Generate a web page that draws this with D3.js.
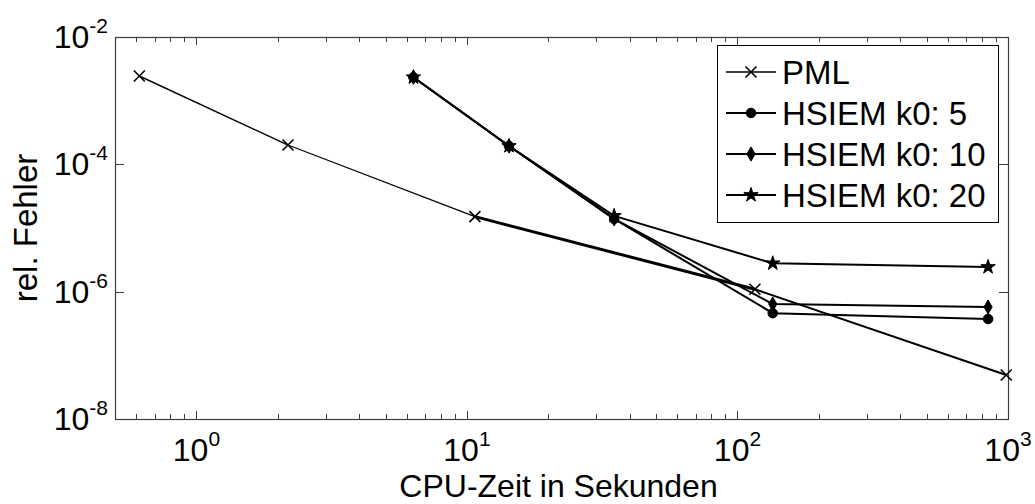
<!DOCTYPE html>
<html>
<head>
<meta charset="utf-8">
<script src="https://cdn.jsdelivr.net/npm/d3@7"></script>
<style>
  html, body { margin: 0; padding: 0; background: #fff; }
  svg { display: block; }
  text { font-family: "Liberation Sans", Arial, Helvetica, sans-serif; fill: #000; }
</style>
</head>
<body>
<svg id="chart" width="1035" height="504"></svg>
<script>
// CPU time (s) and relative error for each method
const pmlTime   = [0.615, 2.18, 10.7, 116, 985];
const pmlError  = [2.44e-3, 2.01e-4, 1.51e-5, 1.09e-6, 4.9e-8];

const hsiemTime = [6.34, 14.3, 35.0, 135, 844];
const hsiemK5   = [2.33e-3, 1.94e-4, 1.39e-5, 4.6e-7, 3.72e-7];
const hsiemK10  = [2.33e-3, 1.94e-4, 1.39e-5, 6.4e-7, 5.74e-7];
const hsiemK20  = [2.33e-3, 1.94e-4, 1.55e-5, 2.79e-6, 2.44e-6];

const seriesNames = ["PML", "HSIEM k0: 5", "HSIEM k0: 10", "HSIEM k0: 20"];

// Axis ranges and tick labels (powers of ten)
const xDomain = [0.5, 1000];
const yDomain = [1e-8, 1e-2];
const xTickValues = [1, 10, 100, 1000];
const xTickExponents = ["0", "1", "2", "3"];
const yTickValues = [1e-8, 1e-6, 1e-4, 1e-2];
const yTickExponents = ["-8", "-6", "-4", "-2"];

const xLabel = "CPU-Zeit in Sekunden";
const yLabel = "rel. Fehler";

// ---- layout ----
const plot = { left: 115, right: 1008, top: 37, bottom: 419 };
const axisColor = "#3c3c3c";
const fontTick = 32;
const fontLabel = 33;
const fontXLabel = 32;
const fontSup = 21;

const svg = d3.select("#chart");

const x = d3.scaleLog().domain(xDomain).range([plot.left, plot.right]);
const y = d3.scaleLog().domain(yDomain).range([plot.bottom, plot.top]);

// ---- axes box and ticks ----
const axes = svg.append("g");
axes.append("rect")
  .attr("x", plot.left + 0.5).attr("y", plot.top + 0.5)
  .attr("width", plot.right - plot.left).attr("height", plot.bottom - plot.top)
  .attr("fill", "none").attr("stroke", axisColor).attr("stroke-width", 1.2);

const majorLen = 8, minorLen = 5;
x.ticks().forEach(v => {
  const isMajor = Math.abs(Math.log10(v) - Math.round(Math.log10(v))) < 1e-9;
  const len = isMajor ? majorLen : minorLen;
  const px = Math.round(x(v)) + 0.5;
  if (px <= plot.left + 1 || px >= plot.right) return;
  axes.append("line").attr("x1", px).attr("x2", px)
    .attr("y1", plot.bottom).attr("y2", plot.bottom - len)
    .attr("stroke", axisColor);
  axes.append("line").attr("x1", px).attr("x2", px)
    .attr("y1", plot.top).attr("y2", plot.top + len)
    .attr("stroke", axisColor);
});
yTickValues.forEach(v => {
  const py = Math.round(y(v)) + 0.5;
  if (py <= plot.top + 1 || py >= plot.bottom) return;
  axes.append("line").attr("x1", plot.left).attr("x2", plot.left + majorLen + 1)
    .attr("y1", py).attr("y2", py).attr("stroke", axisColor);
  axes.append("line").attr("x1", plot.right).attr("x2", plot.right - majorLen - 1)
    .attr("y1", py).attr("y2", py).attr("stroke", axisColor);
});

// ---- tick labels: 10 with superscript exponent ----
function powerLabel(g, base, exp) {
  const t = g.append("text").attr("font-size", fontTick);
  t.append("tspan").text(base);
  t.append("tspan").attr("font-size", fontSup).attr("dy", -15).text(exp);
  return t;
}
xTickValues.forEach((v, i) => {
  powerLabel(svg, "10", xTickExponents[i])
    .attr("x", x(v)).attr("y", 461).attr("text-anchor", "middle");
});
yTickValues.forEach((v, i) => {
  powerLabel(svg, "10", yTickExponents[i])
    .attr("x", 108).attr("y", y(v) + 11).attr("text-anchor", "end");
});

// axis titles
svg.append("text").attr("x", (plot.left + plot.right) / 2 - 3).attr("y", 497)
  .attr("text-anchor", "middle").attr("font-size", fontXLabel).text(xLabel);
svg.append("text")
  .attr("transform", `translate(37,${(plot.top + plot.bottom) / 2}) rotate(-90)`)
  .attr("text-anchor", "middle").attr("font-size", fontLabel).text(yLabel);

// ---- marker shapes ----
const symbols = {
  cross: null,
  circle: d3.symbol().type(d3.symbolCircle).size(72),
  diamond: d3.symbol().type(d3.symbolDiamond).size(58),
  star: d3.symbol().type(d3.symbolStar).size(64)
};
function drawMarker(g, kind, cx, cy) {
  if (kind === "cross") {
    const r = 5.5;
    g.append("path")
      .attr("d", `M${cx - r},${cy - r}L${cx + r},${cy + r}M${cx - r},${cy + r}L${cx + r},${cy - r}`)
      .attr("stroke", "#000").attr("stroke-width", 1.6).attr("fill", "none");
  } else {
    g.append("path").attr("d", symbols[kind]())
      .attr("transform", `translate(${cx},${cy})`)
      .attr("fill", "#000").attr("stroke", "#000").attr("stroke-width", 1);
  }
}

const series = [
  { name: seriesNames[0], xs: pmlTime, ys: pmlError, marker: "cross", width: 1.3 },
  { name: seriesNames[1], xs: hsiemTime, ys: hsiemK5, marker: "circle", width: 2 },
  { name: seriesNames[2], xs: hsiemTime, ys: hsiemK10, marker: "diamond", width: 2 },
  { name: seriesNames[3], xs: hsiemTime, ys: hsiemK20, marker: "star", width: 2 }
];
// PML segment stroke widths (segments rendered heavier further right)
const pmlSegmentWidths = [1.4, 1.2, 3, 2];

const lines = svg.append("g");
const line = d3.line().x(d => x(d[0])).y(d => y(d[1]));

series.forEach((s, si) => {
  const pts = s.xs.map((v, i) => [v, s.ys[i]]);
  if (si === 0) {
    for (let i = 0; i < pts.length - 1; i++) {
      lines.append("path").attr("d", line([pts[i], pts[i + 1]]))
        .attr("fill", "none").attr("stroke", "#000")
        .attr("stroke-width", pmlSegmentWidths[i]).attr("stroke-linecap", "round");
    }
  } else {
    lines.append("path").attr("d", line(pts))
      .attr("fill", "none").attr("stroke", "#000")
      .attr("stroke-width", s.width).attr("stroke-linejoin", "round");
  }
});
series.forEach(s => {
  s.xs.forEach((v, i) => drawMarker(lines, s.marker, x(v), y(s.ys[i])));
});

// ---- legend ----
const legend = svg.append("g");
const lg = { x: 717, y: 45, w: 281, h: 177 };
legend.append("rect").attr("x", lg.x + 0.5).attr("y", lg.y + 0.5)
  .attr("width", lg.w).attr("height", lg.h)
  .attr("fill", "#fff").attr("stroke", "#000").attr("stroke-width", 1);
const rowY = [72, 113, 154, 195];
series.forEach((s, i) => {
  const yy = rowY[i];
  legend.append("line").attr("x1", 726).attr("x2", 776).attr("y1", yy).attr("y2", yy)
    .attr("stroke", "#000").attr("stroke-width", i === 0 ? 1.3 : 2);
  drawMarker(legend, s.marker, 751, yy);
  legend.append("text").attr("x", 782).attr("y", yy + 12)
    .attr("font-size", fontLabel).text(s.name);
});
</script>
</body>
</html>
